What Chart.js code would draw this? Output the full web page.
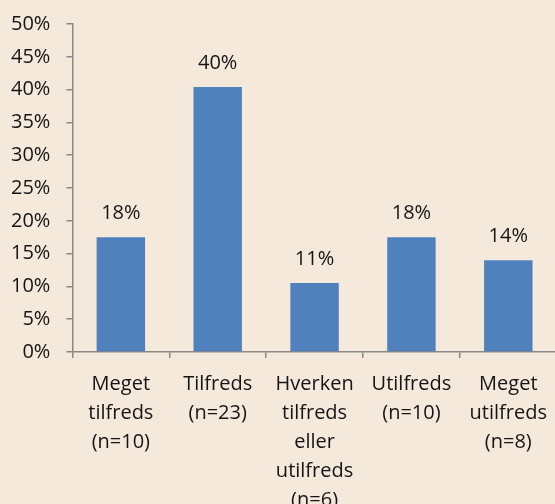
<!DOCTYPE html>
<html>
<head>
<meta charset="utf-8">
<script src="https://cdn.jsdelivr.net/npm/chart.js@4"></script>
<style>
  html, body { margin: 0; padding: 0; background: #f5e9dc; overflow: hidden; }
  #wrap { width: 559px; height: 531px; margin-top: -4px; }
</style>
</head>
<body>
<div id="wrap"><canvas id="chart"></canvas></div>
<script>
// Data
const categories = [
  ["Meget", "tilfreds", "(n=10)"],
  ["Tilfreds", "(n=23)"],
  ["Hverken", "tilfreds", "eller", "utilfreds", "(n=6)"],
  ["Utilfreds", "(n=10)"],
  ["Meget", "utilfreds", "(n=8)"]
];
const shares = [17.5, 40.4, 10.5, 17.5, 14.0];
const yTicks = [0, 5, 10, 15, 20, 25, 30, 35, 40, 45, 50];

const FONT = "'Open Sans', sans-serif";
const TEXT = "#151515";
const AXIS = "#898989";

// labels over the bars
const barLabels = {
  id: "barLabels",
  afterDatasetsDraw(chart) {
    const c = chart.ctx;
    const meta = chart.getDatasetMeta(0);
    c.save();
    c.font = "20px " + FONT;
    c.fillStyle = TEXT;
    c.textAlign = "center";
    c.textBaseline = "middle";
    meta.data.forEach((bar, i) => {
      c.fillText(Math.round(shares[i]) + "%", bar.x, bar.y - 24);
    });
    c.restore();
  }
};

const ctx = document.getElementById("chart").getContext("2d");
const myChart = new Chart(ctx, {
  type: "bar",
  data: {
    labels: categories,
    datasets: [
      {
        data: shares,
        backgroundColor: "#4f81bd",
        borderWidth: 0,
        categoryPercentage: 1,
        barPercentage: 0.5
      }
    ]
  },
  plugins: [barLabels],
  options: {
    responsive: true,
    maintainAspectRatio: false,
    animation: false,
    layout: { padding: { top: 0, left: -5, right: 0, bottom: 0 } },
    plugins: {
      legend: { display: false },
      tooltip: { enabled: false }
    },
    scales: {
      y: {
        min: 0,
        max: 50,
        afterBuildTicks: (axis) => {
          axis.ticks = yTicks.map((v) => ({ value: v }));
        },
        border: { color: AXIS, width: 1.5 },
        grid: {
          drawOnChartArea: false,
          color: AXIS,
          lineWidth: 1.5,
          tickLength: 6
        },
        ticks: {
          color: TEXT,
          padding: 16,
          font: { family: FONT, size: 20 },
          callback: (v) => v + "%"
        }
      },
      x: {
        border: { color: AXIS, width: 1.5 },
        grid: {
          offset: true,
          drawOnChartArea: false,
          color: AXIS,
          lineWidth: 1.5,
          tickLength: 6
        },
        ticks: {
          color: TEXT,
          padding: 12,
          maxRotation: 0,
          autoSkip: false,
          font: { family: FONT, size: 20, lineHeight: 1.45 }
        }
      }
    }
  }
});
</script>
</body>
</html>
